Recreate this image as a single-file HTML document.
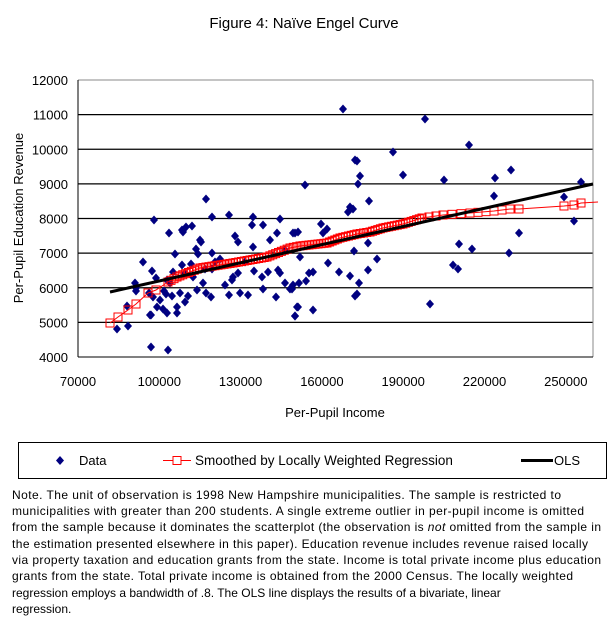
<!DOCTYPE html>
<html><head><meta charset="utf-8"><style>
body{margin:0;background:#fff}
svg{display:block;font-family:"Liberation Sans",Arial,sans-serif}
</style></head><body>
<svg id="s" width="608" height="630" xmlns="http://www.w3.org/2000/svg">
<rect width="608" height="630" fill="#fff"/>
<text x="304" y="28" font-size="15" text-anchor="middle">Figure 4: Naïve Engel Curve</text>
<g id="grid" stroke="#000" stroke-width="1.2"></g>
<line x1="78" y1="80" x2="593" y2="80" stroke="#888"/>
<line x1="593" y1="80" x2="593" y2="357" stroke="#888"/>
<line x1="78" y1="80" x2="78" y2="357" stroke="#000"/>
<line x1="78" y1="357" x2="593" y2="357" stroke="#000"/>
<g id="ylab" font-size="13" text-anchor="end"></g>
<g id="xlab" font-size="13" text-anchor="middle"></g>
<text x="335" y="417" font-size="13" text-anchor="middle">Per-Pupil Income</text>
<text transform="translate(23,218) rotate(-90)" font-size="13" text-anchor="middle">Per-Pupil Education Revenue</text>
<g id="pts" fill="#000080"></g>
<polyline id="red" fill="none" stroke="#f00" stroke-width="1"/>
<g id="sq" fill="#fff" fill-opacity="0" stroke="#f00" stroke-width="1"></g>
<line x1="110" y1="292" x2="593" y2="184" stroke="#000" stroke-width="3"/>
<rect x="18.5" y="442.5" width="588" height="36" fill="none" stroke="#000"/>
<path d="M60 456 L64 460.5 L60 465 L56 460.5Z" fill="#000080"/>
<text x="79" y="465" font-size="13">Data</text>
<line x1="163" y1="460.5" x2="191" y2="460.5" stroke="#f00"/>
<rect x="173" y="456.5" width="8" height="8" fill="#fff" stroke="#f00"/>
<text x="195" y="465" font-size="13.5">Smoothed by Locally Weighted Regression</text>
<line x1="521" y1="460.5" x2="553" y2="460.5" stroke="#000" stroke-width="3"/>
<text x="554" y="465" font-size="13">OLS</text>
<g font-size="12">
<text x="12" y="499" textLength="549">Note.  The unit of observation is 1998 New Hampshire municipalities.  The sample is restricted to</text>
<text x="12" y="515" textLength="572">municipalities with greater than 200 students.  A single extreme outlier in per-pupil income is omitted</text>
<text x="12" y="531" textLength="589">from the sample because it dominates the scatterplot (the observation is  <tspan font-style="italic">not</tspan>  omitted from the sample in</text>
<text x="12" y="548" textLength="576">the estimation presented elsewhere in this paper).  Education revenue includes revenue raised locally</text>
<text x="12" y="564" textLength="589">via property taxation and education grants from the state.  Income is total private income plus education</text>
<text x="12" y="580" textLength="561">grants from the state.   Total private income is obtained from the 2000 Census.  The locally weighted</text>
<text x="12" y="597">regression employs a bandwidth of .8.  The OLS line displays the results of a bivariate, linear</text>
<text x="12" y="613">regression.</text>
</g>
</svg>
<script>
var NS="http://www.w3.org/2000/svg";
function el(p,t,a,txt){var e=document.createElementNS(NS,t);for(var k in a)e.setAttribute(k,a[k]);if(txt)e.textContent=txt;document.getElementById(p).appendChild(e);}
for(var i=0;i<=8;i++){var y=357-i*34.625;if(i>0&&i<8)el("grid","line",{x1:78,x2:593,y1:y,y2:y});el("ylab","text",{x:68,y:y+5},String(4000+i*1000));}
for(var i=0;i<7;i++){var x=78+i*81.3;el("xlab","text",{x:x,y:386},String(70000+i*30000));}
var P=[[343,109],[425,119],[469,145],[393,152],[355,160],[357,161],[360,176],[358,184],[403,175],[444,180],[495,178],[511,170],[305,185],[581,182],[494,196],[564,197],[369,201],[350,207],[353,209],[348,212],[574,221],[321,224],[327,229],[323,233],[519,233],[293,233],[298,232],[368,243],[459,244],[472,249],[354,251],[509,253],[300,257],[328,263],[377,259],[453,265],[458,269],[339,272],[368,270],[309,273],[313,272],[350,276],[306,281],[299,283],[359,283],[292,289],[357,294],[355,296],[298,307],[313,310],[295,316],[430,304],
[154,220],[169,233],[206,199],[212,217],[229,215],[253,217],[280,219],[252,225],[263,225],[277,233],[182,230],[186,227],[192,226],[183,232],[200,240],[201,242],[235,236],[238,242],[295,233],[253,247],[212,253],[175,254],[196,249],[198,254],[135,283],[136,291],[152,271],[156,278],[191,264],[185,273],[205,269],[212,269],[220,259],[182,265],[173,272],[193,277],[197,290],[206,293],[211,297],[203,283],[233,277],[232,280],[229,295],[238,273],[248,295],[254,271],[262,277],[263,289],[268,272],[278,270],[280,273],[285,283],[290,289],[276,297],[293,285],[240,293],[170,283],[180,293],[172,296],[177,307],[185,302],[163,309],[157,307],[150,315],[177,313],[167,313],[297,307],[295,316],[128,326],[117,329],[127,306],[136,288],[149,293],[153,297],[151,315],[151,347],[168,350],[167,280],[164,291],[166,294],[215,262],[225,285],[245,262],[270,240],[285,250],[160,300],[143,262],[188,296]];
P.forEach(function(p){el("pts","path",{d:"M"+p[0]+" "+(p[1]-4.5)+"L"+(p[0]+4)+" "+p[1]+"L"+p[0]+" "+(p[1]+4.5)+"L"+(p[0]-4)+" "+p[1]+"Z"});});
var R=[[110,323],[118,317],[128,310],[136,304],[148,293],[156,290],[168,282],[177,277],[200,268],[233,263],[267,257],[290,248],[300,246],[327,243],[340,238],[357,234],[370,232],[383,228],[403,224],[422,218],[443,215],[470,213],[494,211],[510,209],[519,209],[564,206],[574,205],[581,203],[598,202]];
document.getElementById("red").setAttribute("points",R.map(function(p){return p.join(",")}).join(" "));
var S=[];
for(var i=0;i<R.length-2;i++){var a=R[i],b=R[i+1];var d=Math.hypot(b[0]-a[0],b[1]-a[1]);var step=(a[0]>=160&&a[0]<420)?3:(a[0]<160?100:8);if(a[0]>=500)step=100;var n=Math.max(1,Math.round(d/step));for(var j=0;j<n;j++){S.push([a[0]+(b[0]-a[0])*j/n,a[1]+(b[1]-a[1])*j/n]);}}
S.push(R[R.length-2]);
S.forEach(function(p){el("sq","rect",{x:p[0]-4,y:p[1]-4,width:8,height:8});});
</script>
</body></html>
